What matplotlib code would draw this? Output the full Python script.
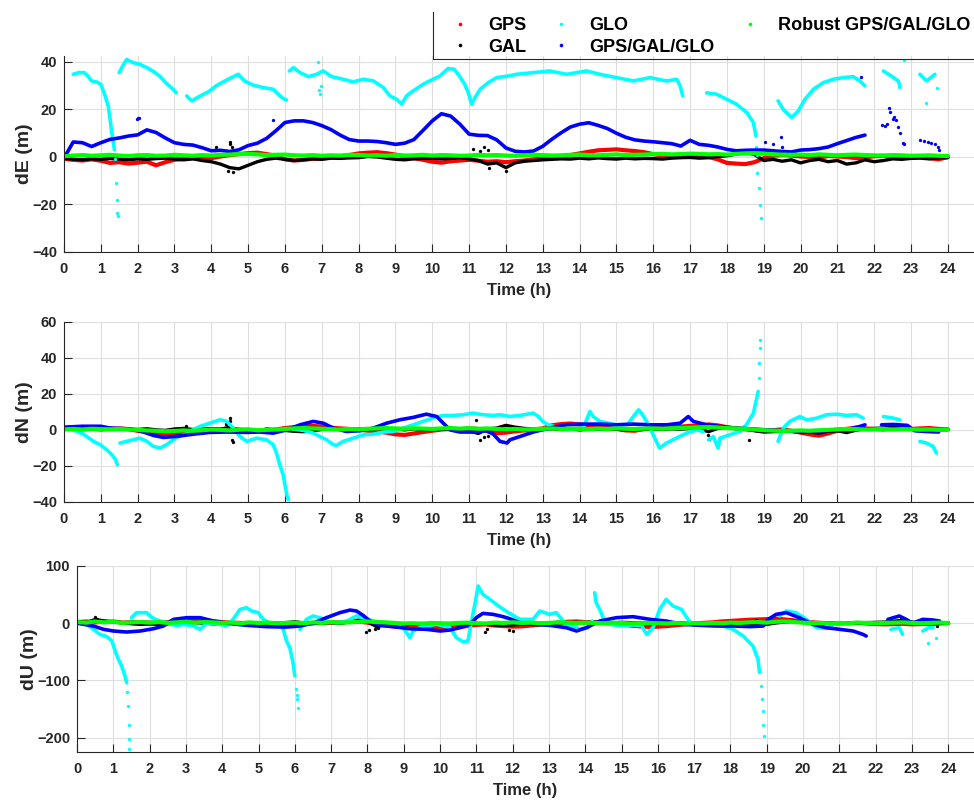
import numpy as np
import matplotlib.pyplot as plt
from matplotlib.lines import Line2D

plt.rcParams['font.family'] = ['Liberation Sans', 'DejaVu Sans']
plt.rcParams['font.weight'] = 'bold'

# 15-minute epochs, 0 h .. 24 h
hours = np.arange(97) * 0.25
nan = np.nan

# ---------------- dE (m) ----------------
gps_e = [-0.8, -1.2, -1.5, -1.0, -1.6, -2.5, -2.2, -2.8,
         -2.4, -2.0, -3.5, -2.2, -1.2, -0.8, -0.5, -0.3,
         -0.5, 0.2, 0.8, 1.2, 1.6, 1.8, 1.2, 0.5,
         -1.0, -1.5, -1.2, -0.8, -0.6, -0.3, 0.2, 0.8,
         1.5, 1.8, 2.0, 1.6, 1.0, 0.3, -0.5, -1.2,
         -2.0, -2.4, -1.8, -1.5, -1.2, -1.6, -2.0, -1.8,
         -2.2, -1.8, -1.5, -1.0, -0.8, -0.5, 0.2, 0.8,
         1.5, 2.2, 2.8, 3.0, 3.2, 2.8, 2.5, 2.0,
         1.2, 0.5, 0.2, 0.0, 0.3, 0.5, 0.0, -1.0,
         -2.5, -2.8, -3.0, -2.2, -0.5, 0.5, 0.8, 0.6,
         0.2, 0.0, -0.3, 0.4, 0.2, 0.0, -0.5, -0.2,
         0.3, 0.5, 0.2, 0.4, 0.0, 0.3, -0.5, -1.0,
         0.0]
gal_e = [-0.5, -1.0, -1.2, -0.8, -1.0, -0.6, -0.9, -1.2,
         -0.8, -1.0, -0.7, -0.5, -0.9, -1.2, -0.8, -1.5,
         -2.0, -3.0, -4.5, -5.0, -3.5, -2.0, -1.0, -0.5,
         -1.0, -1.5, -1.2, -0.8, -1.0, -0.5, -0.6, -0.4,
         -0.3, 0.2, 0.0, -0.5, -1.0, -1.2, -0.8, -0.6,
         -0.5, -0.8, -0.6, -0.3, -0.8, -1.5, -3.0, -2.5,
         -4.5, -2.5, -1.8, -1.5, -1.2, -1.0, -0.8, -0.9,
         -0.5, -0.8, -0.4, -0.7, -0.9, -0.5, -0.8, -0.6,
         -0.7, -0.9, -0.5, -0.3, -0.2, -0.5, -0.3, 0.2,
         0.5, 1.2, 2.0, 1.0, -1.5, -1.0, -1.8, -1.2,
         -2.5, -1.5, -1.0, -2.0, -1.5, -3.0, -2.5, -1.2,
         -2.0, -1.5, -0.8, -1.0, -0.6, -0.5, -0.8, -0.4,
         -0.3]
gal_e_spk_t = [4.1, 4.12, 4.45, 4.5, 4.52, 4.55, 4.6, 11.1, 11.3, 11.4, 11.5, 11.55, 12.0]
gal_e_spk = [3.0, 4.0, -6.0, 5.5, 6.5, 4.0, -6.5, 3.5, 2.5, 4.0, 3.0, -4.5, -6.0]
robust_e = [0.3, 0.6, 0.8, 0.5, 0.7, 0.9, 0.6, 0.4,
            0.7, 0.8, 0.5, 0.6, 0.9, 0.7, 0.5, 0.8,
            0.6, 0.9, 1.0, 1.2, 1.3, 1.1, 0.8, 0.9,
            1.0, 0.7, 0.6, 0.8, 0.5, 0.7, 0.6, 0.9,
            0.8, 0.6, 0.7, 0.5, 0.8, 0.6, 0.7, 0.9,
            0.6, 0.8, 0.7, 0.5, 0.6, 0.9, 0.7, 0.8,
            0.6, 0.5, 0.7, 0.9, 0.8, 0.6, 0.7, 0.9,
            1.0, 0.8, 0.7, 0.9, 1.1, 0.8, 0.9, 1.0,
            1.2, 1.3, 1.1, 1.2, 1.4, 1.3, 1.1, 1.2,
            1.0, 1.3, 1.5, 1.6, 1.4, 1.1, 1.0, 0.9,
            1.0, 0.8, 1.1, 0.9, 0.7, 0.9, 1.0, 0.8,
            0.7, 0.6, 0.8, 0.7, 0.5, 0.6, 0.7, 0.5,
            0.4]
mix_e = [-0.5, 6.3, 6.0, 4.4, 6.0, 7.4, 8.0, 8.8,
         9.3, 11.4, 10.3, 8.0, 6.0, 5.3, 5.0, 3.9,
         2.6, 2.8, 2.3, 3.0, 4.8, 5.8, 7.8, 11.0,
         14.5, 15.2, 15.2, 14.5, 13.2, 11.5, 9.2, 7.3,
         6.7, 6.7, 6.5, 6.0, 5.3, 5.8, 7.3, 11.2,
         15.2, 18.2, 17.2, 13.8, 9.6, 9.1, 9.0, 7.2,
         3.8, 2.4, 2.1, 2.5, 4.5, 7.5, 10.2, 12.6,
         13.8, 14.4, 13.3, 12.0, 10.0, 8.3, 7.2, 6.7,
         6.4, 6.0, 5.6, 4.6, 7.0, 5.3, 4.9, 4.2,
         3.2, 2.6, 2.8, 2.9, 2.9, 2.6, 2.3, 2.1,
         2.9, 3.1, 3.5, 4.2, 5.6, 6.9, 8.2, 9.2,
         nan, nan, nan, nan, nan, nan, nan, nan,
         nan]
mix_e_spk_t = [1.97, 2.0, 2.03, 5.68, 19.03, 19.25, 19.48, 19.5, 21.64,
               22.22, 22.28, 22.35, 22.4, 22.43, 22.5, 22.55, 22.6, 22.65, 22.7, 22.78, 22.8,
               23.25, 23.35, 23.45, 23.55, 23.65, 23.72, 23.75]
mix_e_spk = [15.8, 16.3, 16.6, 15.5, 6.4, 5.4, 8.6, 4.4, 33.7,
             13.5, 13.0, 14.0, 20.5, 19.0, 16.0, 16.8, 15.5, 12.5, 10.0, 6.0, 5.5,
             7.2, 6.8, 6.3, 5.8, 5.5, 4.2, 3.0]
glo_e_t = [0.25, 0.4, 0.55, 0.65, 0.75, 0.9, 1.0, 1.1, 1.2, 1.25, 1.3, 1.34, 1.37, nan,
           1.5, 1.6, 1.7, 1.88, 2.06, 2.25, 2.43, 2.6, 2.78, 2.96, 3.05, nan,
           3.33, 3.47, 3.7, 3.92, 4.14, 4.37, 4.6, 4.73, 4.9, 5.14, 5.41, 5.68, 5.82, 5.95, 6.04, nan,
           6.12, 6.23, 6.41, 6.64, 6.86, 7.04, 7.27, 7.58, 7.85, 8.13, 8.4, 8.67, 8.85, 9.03,
           9.17, 9.3, 9.48, 9.75, 10.02, 10.2, 10.43, 10.6, 10.74, 10.88, 10.98, 11.07,
           11.16, 11.3, 11.52, 11.75, 12.03, 12.29, 12.74, 13.19, 13.65, 14.19, 14.55, 15.0,
           15.46, 15.91, 16.36, 16.64, 16.73, 16.8, nan,
           17.45, 17.72, 17.99, 18.26, 18.54, 18.72, 18.79, nan,
           19.39, 19.53, 19.76, 19.94, 20.12, 20.35, 20.62, 20.89, 21.16, 21.43, 21.61, 21.75, nan,
           22.25, 22.47, 22.65, 22.7, nan,
           23.24, 23.42, 23.65]
glo_e = [34.8, 35.5, 35.5, 34.0, 32.0, 31.5, 30.5, 26.5, 21.5, 16.0, 10.0, 6.0, 3.0, nan,
         35.5, 38.5, 41.0, 39.7, 39.0, 37.6, 36.0, 34.0, 31.0, 28.5, 27.0, nan,
         25.7, 23.6, 25.7, 27.4, 30.0, 32.0, 33.8, 34.8, 32.0, 30.2, 29.2, 28.5, 26.4, 24.6, 24.0, nan,
         36.2, 37.6, 35.5, 33.8, 34.8, 36.2, 33.8, 32.7, 31.6, 32.7, 32.0, 29.2, 25.7, 24.3,
         22.2, 25.7, 27.8, 30.6, 32.7, 34.0, 37.2, 36.9, 34.0, 30.6, 27.0, 22.2,
         25.0, 28.5, 31.3, 33.4, 34.0, 34.8, 35.5, 36.2, 34.8, 36.2, 34.8, 33.4,
         32.0, 33.4, 32.0, 32.7, 29.9, 25.7, nan,
         27.0, 26.4, 24.3, 22.2, 18.7, 14.5, 8.8, nan,
         23.6, 20.0, 16.6, 19.4, 24.3, 28.5, 31.3, 32.7, 33.4, 33.8, 32.0, 29.9, nan,
         36.2, 34.0, 32.0, 30.0, nan,
         34.8, 32.0, 34.8]
glo_e_spk_t = [1.39, 1.42, 1.44, 1.45, 1.46, 6.9, 6.92, 6.95, 6.97,
               18.8, 18.82, 18.83, 18.88, 18.9, 18.92, 22.68, 22.8, 23.4, 23.7]
glo_e_spk = [-1.0, -11.0, -18.0, -23.5, -25.0, 40.0, 28.0, 26.5, 30.0,
             4.0, 1.0, -6.9, -13.0, -20.2, -25.8, 29.5, 41.0, 22.7, 29.0]

# ---------------- dN (m) ----------------
gps_n = [0.5, 0.8, 0.3, 0.6, 0.2, 0.5, 0.8, 0.4,
         -0.5, -1.2, -2.0, -2.8, -2.5, -1.5, -0.5, 0.2,
         0.5, 0.3, 0.8, 0.2, -0.3, -0.8, -0.5, 0.2,
         1.0, 1.5, 2.0, 2.2, 1.8, 1.2, 0.8, 0.5,
         0.2, -0.5, -1.0, -1.5, -2.5, -2.8, -2.0, -1.2,
         -0.5, 0.2, 0.5, 0.3, 0.8, 0.5, -0.8, -1.8,
         -1.5, -0.8, -0.3, 0.2, 0.8, 2.5, 3.2, 3.5,
         3.0, 2.5, 1.8, 1.2, 0.5, -0.3, -0.5, 0.5,
         1.0, 1.5, 2.0, 1.8, 2.2, 2.5, 3.0, 2.5,
         1.5, 0.8, 0.3, 0.0, -0.5, -0.2, 0.3, -0.5,
         -1.5, -2.5, -3.2, -2.0, -0.5, 0.5, 1.2, 0.8,
         0.5, 0.2, 0.8, 1.0, 0.5, 0.8, 1.0, 0.5,
         0.3]
gal_n = [0.5, 0.2, 0.8, 0.4, 0.6, 1.0, 0.3, 0.5,
         0.2, 0.6, 0.0, -0.3, 0.5, 0.8, 0.2, 0.4,
         0.5, 0.3, 1.5, -0.5, 0.2, -0.8, 0.5, 0.0,
         -0.3, -0.8, -1.0, -0.5, 0.2, 0.5, 0.3, 0.0,
         0.5, 0.2, 0.8, 0.3, 0.5, 0.0, 0.6, 0.4,
         0.2, 0.5, 0.3, -0.2, -0.5, -2.0, 0.5, 1.0,
         2.5, 1.5, 0.8, 0.5, 0.3, 0.6, 0.2, 0.4,
         0.0, 0.3, 0.5, 0.2, 0.4, 0.0, 0.3, 0.2,
         0.5, 0.3, 0.6, 0.4, 0.8, 0.5, -1.0, 0.8,
         1.2, 0.8, 0.5, -0.5, -1.2, -1.0, -0.8, -0.5,
         -1.5, -1.2, -1.8, -0.8, -0.5, -1.5, -0.2, 0.5,
         0.8, 1.0, 1.8, 0.8, 0.3, -0.3, -0.5, 0.0,
         0.2]
gal_n_spk_t = [3.3, 4.4, 4.5, 4.52, 4.55, 4.6, 11.2, 11.3, 11.4, 11.5, 17.5, 17.52, 18.6, 22.6]
gal_n_spk = [2.0, 3.0, 6.5, 5.0, -5.5, -7.0, 5.5, -5.5, -4.0, -3.5, -3.0, -5.0, -5.5, 3.5]
robust_n = [0.3, 0.5, 0.2, 0.6, 0.4, 0.3, 0.5, 0.2,
            0.0, -0.3, -0.5, -0.8, -0.6, -0.3, -0.5, -0.2,
            0.2, 0.0, -0.3, 0.1, 0.3, -0.2, 0.0, 0.2,
            0.5, 0.8, 1.0, 0.8, 0.6, 0.4, 0.2, 0.5,
            0.3, 0.6, 0.8, 1.0, 0.8, 0.6, 0.9, 0.7,
            0.5, 0.8, 1.0, 0.7, 0.9, 0.6, 0.8, 0.5,
            0.3, 0.5, 0.2, 0.4, 0.6, 0.8, 0.5, 0.7,
            0.6, 0.4, 0.7, 0.5, 0.8, 0.6, 0.5, 0.7,
            0.8, 0.6, 0.9, 1.0, 1.2, 1.4, 1.6, 1.3,
            1.0, 0.8, 0.5, 0.2, -0.2, -0.4, -0.6, -0.5,
            -0.3, -0.5, -0.2, 0.0, 0.3, 0.5, 0.4, 0.2,
            0.3, 0.5, 0.2, 0.4, 0.3, 0.1, 0.2, 0.0,
            0.2]
mix_n_t = [0.0, 0.5, 1.0, 1.25, 1.7, 2.06, 2.43, 2.7, 3.06, 3.51, 3.96, 4.42, 4.96, 5.32, 5.68,
           6.05, 6.41, 6.77, 7.04, 7.31, 7.67, 8.04, 8.4, 8.76, 9.12, 9.48, 9.84, 10.12, 10.3,
           10.48, 10.75, 11.1, 11.48, 11.66, 11.84, 12.03, 12.11, 12.38, 12.74, 13.19, 13.65,
           14.1, 14.55, 15.0, 15.46, 15.91, 16.36, 16.73, 16.95, 17.09, 17.45, 17.81, 18.17,
           18.62, 19.07, 19.53, 19.98, 20.44, 20.89, 21.34, 21.61, 21.75, nan,
           22.2, 22.5, 22.9, 23.1, 23.4, 23.75]
mix_n = [1.5, 2.0, 2.0, 1.0, 0.6, -0.5, -3.1, -4.2, -3.6, -2.4, -1.4, -1.2, -1.4, -1.2, -1.8,
         0.0, 2.8, 4.7, 3.7, 1.0, -0.9, -0.5, 1.0, 3.7, 5.6, 6.9, 8.7, 7.4, 3.7,
         0.0, -1.2, -1.2, -0.5, -2.4, -6.4, -7.3, -5.5, -3.7, -1.2, 1.0, 2.8,
         3.2, 3.2, 2.8, 3.2, 2.8, 2.8, 3.7, 7.4, 4.7, 2.8, 1.9, 1.0,
         0.6, 0.0, -0.5, -1.2, -0.9, 0.0, 0.6, 1.9, 2.8, nan,
         2.8, 3.0, 2.5, -0.5, -0.9, -1.2]
glo_n_t = [0.25, 0.53, 0.8, 0.98, 1.16, 1.3, 1.4, 1.45, nan,
           1.52, 1.7, 1.88, 2.06, 2.25, 2.43, 2.61, 2.79, 2.97, 3.06, 3.3, 3.5, 3.69, 3.96,
           4.24, 4.42, 4.6, 4.78, 4.96, 5.23, 5.5, 5.68, 5.77, 5.86, 5.95, 6.0, 6.05, 6.09, nan,
           6.2, 6.5, 6.77, 6.95, 7.13, 7.31, 7.4, 7.58, 7.85, 8.13, 8.4, 8.67, 8.94, 9.21,
           9.48, 9.75, 10.02, 10.3, 10.57, 10.84, 11.1, 11.38, 11.66, 11.84, 12.11, 12.38,
           12.74, 12.88, 13.0, 13.15, 13.65, 14.1, 14.28, 14.37, 14.55, 15.0, 15.3, 15.46,
           15.6, 15.68, 15.82, 16.0, 16.17, 16.36, 16.63, 16.9, 17.18, 17.35, nan,
           17.5, 17.63, 17.76, 17.81, 18.08, 18.35, 18.53, 18.72, 18.81, 18.85, nan,
           19.39, 19.53, 19.71, 19.98, 20.17, 20.44, 20.71, 20.98, 21.25, 21.52, 21.7, nan,
           22.25, 22.52, 22.7, nan,
           23.24, 23.42, 23.6, 23.69]
glo_n = [0.0, -2.4, -6.4, -8.2, -11.0, -13.8, -16.5, -19.4, nan,
         -7.3, -6.4, -5.5, -4.6, -6.4, -9.2, -10.1, -8.2, -5.5, -4.2, -2.5, 0.0, 1.9, 3.7,
         5.6, 4.7, 1.0, -3.7, -6.4, -4.6, -5.5, -8.2, -12.9, -19.4, -24.9, -30.4, -36.0, -38.7, nan,
         0.5, -0.3, -1.8, -3.7, -5.5, -8.2, -8.6, -6.4, -4.6, -2.7, -2.4, -1.2, -0.9, 1.0,
         2.8, 4.7, 6.5, 8.0, 8.0, 8.4, 9.3, 8.4, 8.0, 8.4, 7.4, 8.0,
         9.3, 7.4, 4.7, 2.8, 0.0, 1.0, 10.2, 7.4, 4.7, 2.8, 3.0, 7.4,
         11.1, 9.3, 4.7, -2.7, -10.1, -7.3, -4.6, -1.8, 0.0, -1.0, nan,
         -5.5, -3.7, -10.1, -4.6, -2.7, -0.9, 2.8, 9.3, 17.6, 21.3, nan,
         -6.4, 1.0, 4.7, 7.4, 5.5, 6.5, 8.4, 8.7, 8.0, 8.4, 6.5, nan,
         7.4, 6.5, 5.5, nan,
         -6.4, -7.3, -9.2, -12.9]
glo_n_spk_t = [18.87, 18.88, 18.89, 18.9]
glo_n_spk = [28.7, 37.0, 45.3, 49.9]

# ---------------- dU (m) ----------------
gps_u = [2.0, 3.0, 1.5, 2.5, 3.0, 1.0, 2.0, 1.5,
         1.0, 0.5, 2.0, 4.0, 5.5, 6.0, 5.0, 3.5,
         2.0, 1.0, 0.5, -0.5, -1.0, -1.5, -2.0, -1.5,
         -1.0, -0.5, 0.0, 0.5, 1.0, 1.5, 2.5, 3.0,
         1.0, -2.0, -4.0, -6.0, -6.5, -5.5, -6.0, -7.5,
         -8.0, -8.5, -7.0, -5.0, -3.0, -2.0, -4.0, -5.0,
         -6.0, -5.5, -4.0, -2.5, -0.5, 1.0, 2.5, 3.0,
         2.0, 1.5, 0.5, -1.0, -2.5, -4.0, -5.5, -6.5,
         -6.0, -5.0, -3.5, -2.0, -0.5, 0.5, 1.5, 3.0,
         4.0, 5.0, 6.0, 6.5, 7.0, 8.0, 6.5, 5.0,
         3.0, 1.5, 0.5, 0.0, -0.5, 0.0, 0.5, -0.5,
         -1.5, -2.0, -1.5, -1.0, -2.0, -1.5, -1.0, -0.5,
         0.0]
gal_u = [3.0, 1.0, 6.5, 4.0, 2.0, 1.0, -1.0, -2.0,
         -1.5, -2.5, -1.0, 0.5, -0.5, 1.0, 0.0, -1.0,
         -0.5, 0.0, 1.0, 0.5, -0.5, 0.0, 0.5, 1.0,
         2.5, 0.5, -0.5, 0.5, 1.0, 0.0, 2.0, 5.5,
         3.0, -6.0, -2.5, -1.5, -2.0, -1.0, -0.5, -1.5,
         -2.0, -1.0, -0.5, -1.5, -0.5, -1.0, -3.0, -4.0,
         -3.0, -2.0, -1.0, 0.0, 0.5, 1.0, 0.5, 1.5,
         1.0, 2.0, 1.0, 0.5, 1.5, 1.0, 0.5, 0.0,
         -0.5, 0.5, 1.0, 0.0, -0.5, -1.0, -2.0, -2.5,
         -3.0, -2.5, -4.0, -3.5, -2.0, 0.5, 2.0, 3.0,
         1.5, 0.5, 0.0, -0.5, 0.5, 1.0, 0.0, 1.0,
         1.5, 2.0, 3.5, 5.0, 2.0, 1.0, -1.5, 0.0,
         1.0]
gal_u_spk_t = [0.5, 0.55, 7.95, 8.05, 8.2, 8.3, 11.25, 11.3, 11.9, 12.0, 18.7, 22.7, 23.7]
gal_u_spk = [10.0, 8.0, -15.0, -12.0, -10.0, -8.0, -15.0, -10.0, -12.0, -14.0, 5.0, 8.0, -5.0]
robust_u = [2.0, 1.0, 3.0, 1.5, 2.5, 0.5, 1.5, 2.0,
            1.0, 2.0, 0.5, 1.5, 2.5, 1.0, 2.0, 1.5,
            0.5, 1.0, 0.0, 1.5, 0.5, 1.0, 0.0, 0.5,
            1.0, 0.0, 1.5, 0.5, 2.0, 1.0, 1.5, 2.5,
            3.0, 2.0, 1.5, 0.5, -0.5, 0.0, -1.0, 0.5,
            0.0, -0.5, 0.5, 1.0, 0.0, -0.5, 1.0, 0.5,
            1.5, 0.5, 1.0, 0.0, 0.5, 1.5, 1.0, 0.5,
            1.0, 0.5, 0.0, 1.0, 0.5, -0.5, 0.0, 0.5,
            0.0, -0.5, 0.5, -1.0, 0.0, -0.5, 0.5, 0.0,
            1.0, 0.5, 1.5, 2.0, 1.0, 2.5, 3.0, 2.0,
            1.0, 0.0, 0.5, -0.5, 0.5, 0.0, 1.0, 0.5,
            0.0, 0.5, 1.0, 1.5, 0.5, 0.0, 0.5, 1.0,
            0.5]
mix_u_t = [0.0, 0.45, 0.73, 1.0, 1.37, 1.74, 2.1, 2.38, 2.66, 3.03, 3.39, 3.76, 4.12, 4.67,
           5.22, 5.77, 6.14, 6.5, 6.87, 7.24, 7.52, 7.7, 7.88, 8.07, 8.34, 8.71, 9.17, 9.63,
           10.0, 10.27, 10.55, 10.82, 11.0, 11.18, 11.46, 11.74, 11.92, 12.2, 12.56, 13.02,
           13.48, 13.76, 14.03, 14.4, 14.86, 15.32, 15.78, 16.23, 16.69, 17.16, 17.62, 18.07,
           18.53, 18.9, 19.04, 19.26, 19.54, 19.9, 20.27, 20.64, 21.01, 21.38, 21.65, 21.74, nan,
           22.34, 22.65, 22.84, 23.02, 23.3, 23.58, 23.76]
mix_u = [0.0, -4.9, -10.7, -13.6, -15.4, -13.6, -9.7, -4.9, 6.8, 9.7, 9.7, 3.8, 0.0, -3.7,
         -6.0, -6.7, -4.9, 0.0, 9.7, 18.4, 23.0, 21.3, 13.7, 3.8, -3.7, -6.0, -9.7, -10.7,
         -13.6, -11.9, -7.8, -2.0, 9.7, 17.2, 15.5, 11.4, 7.9, 1.0, -2.0, -3.7,
         -7.8, -13.6, -7.8, 3.8, 9.7, 11.4, 6.8, 3.8, -2.0, -3.7, -4.9, -4.9,
         -6.0, -4.9, 6.8, 15.5, 18.4, 9.7, -2.0, -7.8, -10.7, -13.6, -19.5, -22.4, nan,
         6.8, 12.6, 6.8, 0.0, 6.8, 5.6, 3.8]
glo_u_t = [0.27, 0.45, 0.63, 0.82, 0.96, 1.05, 1.14, 1.23, 1.32, 1.37, nan,
           1.5, 1.64, 1.92, 2.01, 2.15, 2.29, 2.56, 2.74, 2.92, 3.2, 3.39, 3.57, 3.85, 4.12,
           4.3, 4.49, 4.67, 4.81, 4.99, 5.13, 5.31, 5.59, 5.68, 5.77, 5.86, 5.95, 6.0, nan,
           6.14, 6.32, 6.5, 6.69, 6.87, 7.15, 7.43, 7.7, 7.88, 8.16, 8.43, 8.71, 8.98, 9.17,
           9.26, 9.54, 9.91, 10.27, 10.45, 10.64, 10.77, 10.86, 10.95, 11.05, 11.18, 11.37,
           11.55, 11.74, 11.92, 12.2, 12.56, 12.75, 13.02, 13.2, 13.48, 13.85, 14.08, 14.2, nan,
           14.26, 14.3, 14.4, 14.49, 14.7, 15.0, 15.3, 15.55, 15.69, 15.87, 16.05, 16.23,
           16.42, 16.65, 16.83, 16.97, 17.3, 17.7, 18.07, 18.35, 18.62, 18.76, 18.8, nan,
           19.35, 19.54, 19.81, 20.09, 20.37, 20.6, 20.82, nan,
           22.42, 22.65, 22.74, nan,
           23.3, 23.45, 23.58]
glo_u = [-2.0, -10.7, -19.5, -23.5, -31.0, -48.6, -63.0, -74.8, -92.0, -104.0, nan,
         9.7, 18.4, 18.4, 12.6, 6.8, 3.8, -0.2, -4.9, -2.0, -4.9, -10.7, 0.0, 0.0, -4.9,
         6.8, 24.2, 27.1, 21.3, 18.4, 6.8, 0.0, -2.0, -10.7, -31.0, -42.7, -69.0, -92.0, nan,
         -10.7, 6.8, 12.6, 9.7, 3.8, 1.0, 3.8, 12.6, 9.7, 3.8, 1.0, -2.0, -7.8, -25.3,
         -13.6, -4.9, -2.0, -7.8, -25.3, -32.8, -31.0, 1.0, 30.0, 65.0, 50.4, 41.7,
         33.0, 24.2, 17.0, 6.8, 6.8, 21.3, 15.5, 18.4, -2.0, -10.7, -7.8, 3.8, nan,
         53.3, 35.9, 24.2, 9.7, -2.0, -4.9, -3.0, -4.0, -19.5, -7.8, 24.2, 41.7,
         30.0, 24.2, 6.8, -2.0, -1.0, -3.0, -10.7, -22.4, -39.8, -63.0, -86.3, nan,
         12.6, 21.3, 18.4, 6.8, -7.8, -9.0, -8.0, nan,
         -10.7, -7.8, -19.5, nan,
         -13.6, -8.0, -7.8]
glo_u_spk_t = [1.39, 1.41, 1.42, 1.43, 1.44, 6.04, 6.06, 6.07, 6.08,
               18.85, 18.88, 18.9, 18.91, 18.92, 23.44, 23.67]
glo_u_spk = [-121.0, -145.0, -177.0, -203.0, -220.0, -115.6, -125.0, -133.0, -147.5,
             -110.0, -133.0, -153.0, -178.0, -197.0, -34.0, -25.3]

C_GPS, C_GAL, C_GLO, C_MIX, C_ROB = '#ff0000', '#000000', '#00ffff', '#0000ff', '#00ff00'
INK = '#262626'


def band(ax, t, v, color, lw=2.6):
    ax.plot(t, v, color=color, lw=lw, solid_capstyle='round', solid_joinstyle='round')


def dots(ax, t, v, color):
    ax.plot(t, v, 'o', color=color, ms=2.4, mew=0)


fig = plt.figure(figsize=(9.74, 8.01), dpi=100)
ax1 = fig.add_axes([0.0657, 0.6854, 0.9343, 0.2447])
ax2 = fig.add_axes([0.0657, 0.3733, 0.9343, 0.2251])
ax3 = fig.add_axes([0.0791, 0.0612, 0.9209, 0.2322])

panels = [
    (ax1, 'dE (m)', (-40, 42.5), [-40, -20, 0, 20, 40],
     gps_e, gal_e, (gal_e_spk_t, gal_e_spk), (glo_e_t, glo_e), (glo_e_spk_t, glo_e_spk),
     (hours, mix_e), (mix_e_spk_t, mix_e_spk), robust_e),
    (ax2, 'dN (m)', (-40, 60), [-40, -20, 0, 20, 40, 60],
     gps_n, gal_n, (gal_n_spk_t, gal_n_spk), (glo_n_t, glo_n), (glo_n_spk_t, glo_n_spk),
     (mix_n_t, mix_n), ([], []), robust_n),
    (ax3, 'dU (m)', (-225, 100), [-200, -100, 0, 100],
     gps_u, gal_u, (gal_u_spk_t, gal_u_spk), (glo_u_t, glo_u), (glo_u_spk_t, glo_u_spk),
     (mix_u_t, mix_u), ([], []), robust_u),
]

for ax, ylab, ylim, yt, gps, gal, gal_spk, glo, glo_spk, mix, mix_spk, rob in panels:
    band(ax, hours, gps, C_GPS, lw=3.0)
    band(ax, hours, gal, C_GAL, lw=2.4)
    dots(ax, *gal_spk, C_GAL)
    band(ax, *glo, C_GLO)
    dots(ax, *glo_spk, C_GLO)
    band(ax, *mix, C_MIX)
    dots(ax, *mix_spk, C_MIX)
    band(ax, hours, rob, C_ROB, lw=3.0)

    ax.set_xlim(0, 24.71)
    ax.set_ylim(*ylim)
    ax.set_xticks(range(25))
    ax.set_yticks(yt)
    ax.grid(True, color='#dedede', lw=0.8)
    ax.set_axisbelow(True)
    for s in ['top', 'right']:
        ax.spines[s].set_visible(False)
    for s in ['left', 'bottom']:
        ax.spines[s].set_color(INK)
        ax.spines[s].set_linewidth(0.8)
    ax.tick_params(direction='in', length=6, width=0.8, color=INK, labelcolor=INK, labelsize=10.5)
    ax.tick_params(axis='x', pad=7)
    ax.tick_params(axis='y', pad=5)
    ax.set_xlabel('Time (h)', fontsize=12, fontweight='bold', color=INK, labelpad=5)
    ax.set_ylabel(ylab, fontsize=14, fontweight='bold', color=INK, labelpad=-0.5)

handles = [Line2D([], [], ls='none', marker='o', ms=2.6, mew=0, color=c)
           for c in [C_GPS, C_GAL, C_GLO, C_MIX, C_ROB]]
labels = ['GPS', 'GAL', 'GLO', 'GPS/GAL/GLO', 'Robust GPS/GAL/GLO']
fig.legend(handles, labels, ncol=3, loc='upper left', bbox_to_anchor=(0.461, 0.979),
           frameon=False, prop=dict(size=13, weight='bold'), handlelength=1.2,
           handletextpad=0.95, columnspacing=1.35, labelspacing=0.27,
           borderpad=0, borderaxespad=0)
# legend box: only its left and bottom edges fall inside the figure
fig.add_artist(Line2D([0.4446, 0.4446], [0.985, 0.9263], transform=fig.transFigure,
                      color=INK, lw=0.8))
fig.add_artist(Line2D([0.4446, 1.0], [0.9263, 0.9263], transform=fig.transFigure,
                      color=INK, lw=0.8))

fig.savefig('out.png', dpi=100)
